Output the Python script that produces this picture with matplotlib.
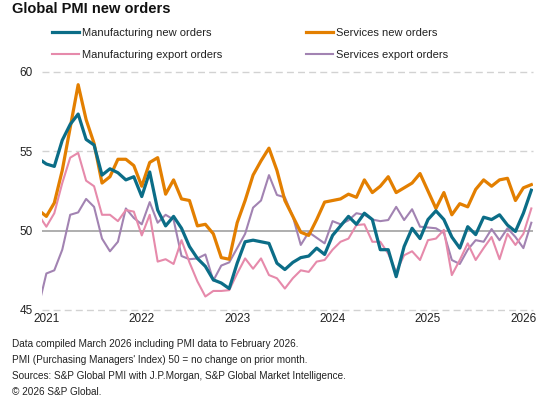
import numpy as np
import matplotlib.pyplot as plt
from matplotlib.lines import Line2D

plt.rcParams['font.family'] = ['Liberation Sans', 'DejaVu Sans']

# month index: -1 = Dec 2020, 0 = Jan 2021 ... 61 = Feb 2026
months = np.arange(-1, 62)
year_labels = ['2021', '2022', '2023', '2024', '2025', '2026']
year_pos = [0, 12, 24, 36, 48, 60]

mfg_new = [54.55, 54.2, 54.05, 55.7, 56.7, 57.35, 55.75, 55.4, 53.5, 53.9, 53.65, 53.2, 53.4,
           52.15, 53.7, 51.3, 50.3, 50.9, 50.15, 49.0, 48.25, 47.75, 46.9, 46.7, 46.35,
           47.95, 49.3, 49.4, 49.3, 49.2, 47.95, 47.55, 48.0, 48.3, 48.4, 48.9, 48.5,
           49.7, 50.3, 50.9, 50.4, 51.1, 50.7, 48.8, 48.8, 47.1, 49.0, 50.15, 49.5,
           50.7, 51.25, 50.7, 49.6, 48.9, 50.25, 49.75, 50.85, 50.7, 51.0, 50.35, 49.95,
           51.1, 52.55]
svc_new = [51.3, 50.9, 51.75, 53.8, 56.5, 59.2, 57.0, 55.5, 53.0, 53.4, 54.5, 54.5, 54.1,
           52.8, 54.3, 54.6, 52.3, 53.2, 52.0, 51.9, 50.3, 50.4, 49.8, 48.3, 48.2,
           50.5, 51.9, 53.5, 54.4, 55.2, 53.8, 51.9, 50.9, 49.9, 49.7, 50.7, 51.8,
           51.9, 52.0, 52.3, 52.1, 53.2, 52.4, 52.8, 53.4, 52.4, 52.7, 53.0, 53.6,
           52.5, 51.4, 52.4, 51.0, 51.7, 51.5, 52.6, 53.2, 52.8, 53.2, 53.3, 51.9,
           52.7, 52.9]
mfg_exp = [51.0, 50.25, 51.1, 53.0, 54.6, 54.9, 53.15, 52.8, 51.0, 51.0, 50.6, 51.3, 51.2,
           49.7, 51.0, 48.05, 48.2, 47.9, 49.4, 48.0, 46.8, 45.85, 46.2, 46.2, 46.25,
           47.3, 48.25, 47.6, 48.25, 47.2, 47.0, 46.35, 47.0, 47.5, 47.4, 48.05, 48.15,
           48.8, 49.3, 49.5, 50.35, 50.4, 49.3, 49.3, 48.55, 47.4, 48.45, 48.7, 48.15,
           49.4, 49.5, 50.05, 47.2, 48.15, 49.2, 48.15, 48.9, 49.6, 48.2, 49.8, 49.1,
           49.8, 51.4]
svc_exp = [45.2, 47.3, 47.5, 48.8, 51.0, 51.15, 52.0, 51.5, 49.5, 48.7, 49.3, 51.4, 50.8,
           50.4, 51.8, 50.5, 51.0, 50.7, 48.4, 48.2, 48.25, 48.5, 46.85, 47.8, 48.0,
           48.9, 49.8, 51.45, 51.9, 53.5, 52.25, 52.1, 50.9, 49.1, 49.9, 49.55, 49.2,
           50.6, 50.4, 50.65, 51.1, 51.0, 50.7, 50.6, 50.67, 51.5, 50.67, 51.35, 50.25,
           50.2, 50.15, 49.85, 48.15, 47.9, 48.8, 49.4, 49.3, 50.1, 49.4, 50.15, 49.6,
           48.9, 50.5]

c_teal = '#0b6d87'
c_orange = '#e37f00'
c_pink = '#e68aab'
c_purple = '#a283b2'

fig = plt.figure(figsize=(5.51, 3.96), dpi=100)
ax = fig.add_axes([0.0762, 0.2172, 0.891, 0.601])

for y in [45, 55, 60]:
    ax.axhline(y, color='#d2d2d2', lw=1, ls=(0, (5, 3)), clip_on=False, zorder=1)
ax.axhline(50, color='#a8a8a8', lw=1.3, zorder=1)

ax.plot(months, svc_exp, color=c_purple, lw=1.5, zorder=2)
ax.plot(months, mfg_exp, color=c_pink, lw=1.5, zorder=2)
ax.plot(months, svc_new, color=c_orange, lw=2.3, zorder=3)
ax.plot(months, mfg_new, color=c_teal, lw=2.3, zorder=4)

ax.set_xlim(-0.55, 61.2)
ax.set_ylim(45, 60)
ax.set_yticks([45, 50, 55, 60])
ax.set_xticks(year_pos)
ax.set_xticklabels(year_labels)
ax.tick_params(length=0, labelsize=8.5, colors='#222222')
ax.tick_params(axis='y', pad=6.5)
ax.tick_params(axis='x', pad=2)
for s in ax.spines.values():
    s.set_visible(False)

fig.text(12 / 551, 1 - 9 / 396, 'Global PMI new orders', fontsize=10.5,
         fontweight='bold', va='center', ha='left', color='#111111')

h1 = [Line2D([], [], color=c_teal, lw=2.3), Line2D([], [], color=c_pink, lw=1.5)]
h2 = [Line2D([], [], color=c_orange, lw=2.3), Line2D([], [], color=c_purple, lw=1.5)]
kw = dict(frameon=False, fontsize=8, loc='upper left', borderpad=0, borderaxespad=0,
          handlelength=2.4, handletextpad=0.3, labelspacing=1.05, labelcolor='#222222')
fig.legend(h1, ['Manufacturing new orders', 'Manufacturing export orders'],
           bbox_to_anchor=(52 / 551, 1 - 28 / 396), **kw)
fig.legend(h2, ['Services new orders', 'Services export orders'],
           bbox_to_anchor=(306 / 551, 1 - 28 / 396), **kw)

notes = ['Data compiled March 2026 including PMI data to February 2026.',
         "PMI (Purchasing Managers' Index) 50 = no change on prior month.",
         'Sources: S&P Global PMI with J.P.Morgan, S&P Global Market Intelligence.',
         '\u00a9 2026 S&P Global.']
for k, t in enumerate(notes):
    fig.text(12 / 551, 1 - (344 + 16 * k) / 396, t, fontsize=7.2, va='center',
             ha='left', color='#222222')

fig.savefig('out.png', dpi=100)
